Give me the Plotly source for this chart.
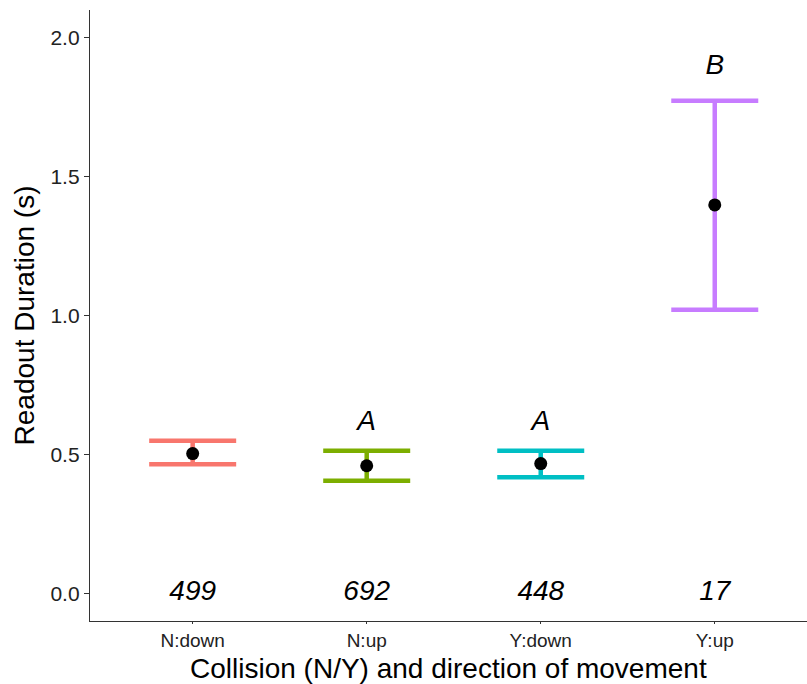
import plotly.graph_objects as go

# Groups: collision (N/Y) crossed with direction of movement
groups = ["N:down", "N:up", "Y:down", "Y:up"]
means = [0.503, 0.459, 0.467, 1.398]
ci_upper = [0.549, 0.513, 0.513, 1.773]
ci_lower = [0.464, 0.405, 0.418, 1.021]
counts = ["499", "692", "448", "17"]
letters = ["", "A", "A", "B"]
letter_y = [None, 0.613, 0.613, 1.893]
colors = ["#F8766D", "#7CAE00", "#00BFC4", "#C77CFF"]

FONT = "Liberation Sans, Arial, sans-serif"

fig = go.Figure()

# Confidence intervals, one coloured trace per group
for g, m, hi, lo, c in zip(groups, means, ci_upper, ci_lower, colors):
    fig.add_trace(go.Scatter(
        x=[g], y=[m], mode="markers",
        marker=dict(size=1, color="rgba(0,0,0,0)"),
        error_y=dict(type="data", symmetric=False,
                     array=[hi - m], arrayminus=[m - lo],
                     color=c, thickness=4.5, width=43.5),
        showlegend=False, hoverinfo="skip",
    ))

# Group means
fig.add_trace(go.Scatter(
    x=groups, y=means, mode="markers",
    marker=dict(size=13, color="black"),
    showlegend=False,
))

# Sample sizes along the baseline
fig.add_trace(go.Scatter(
    x=groups, y=[0] * len(groups), mode="text", text=counts,
    textfont=dict(family=FONT, size=28, color="black", style="italic"),
    textposition="middle center", showlegend=False,
))

# Significance letters
lx = [g for g, t in zip(groups, letters) if t]
ly = [y for y, t in zip(letter_y, letters) if t]
lt = [t for t in letters if t]
fig.add_trace(go.Scatter(
    x=lx, y=ly, mode="text", text=lt,
    textfont=dict(family=FONT, size=28, color="black", style="italic"),
    textposition="middle center", showlegend=False,
))

tick_font = dict(family=FONT, size=21, color="#222222")
xtick_font = dict(family=FONT, size=19, color="#222222")
title_font = dict(family=FONT, size=28, color="black")

fig.update_layout(
    width=807, height=684,
    margin=dict(l=90, r=0, t=10, b=63),
    paper_bgcolor="white", plot_bgcolor="white",
    font=tick_font,
    xaxis=dict(
        type="category", categoryorder="array", categoryarray=groups,
        range=[-0.59, 3.53],
        showline=True, linecolor="#333333", linewidth=1.3,
        ticks="outside", ticklen=2, tickcolor="#333333", tickwidth=1.3,
        showgrid=False, zeroline=False, automargin=False,
        tickfont=xtick_font,
    ),
    yaxis=dict(
        range=[-0.1, 2.1],
        tickvals=[0, 0.5, 1.0, 1.5, 2.0],
        ticktext=["0.0", "0.5", "1.0", "1.5", "2.0"],
        showline=True, linecolor="#333333", linewidth=1.3,
        ticks="outside", ticklen=5, tickcolor="#333333", tickwidth=1.3,
        showgrid=False, zeroline=False, automargin=False,
        tickfont=tick_font,
        title=dict(text="Readout Duration (s)", font=title_font, standoff=7),
    ),
    annotations=[dict(
        text="Collision (N/Y) and direction of movement",
        xref="paper", yref="paper", x=0.5, y=0,
        xanchor="center", yanchor="middle", yshift=-47,
        showarrow=False, font=title_font,
    )],
)

fig.write_html("out.html")
